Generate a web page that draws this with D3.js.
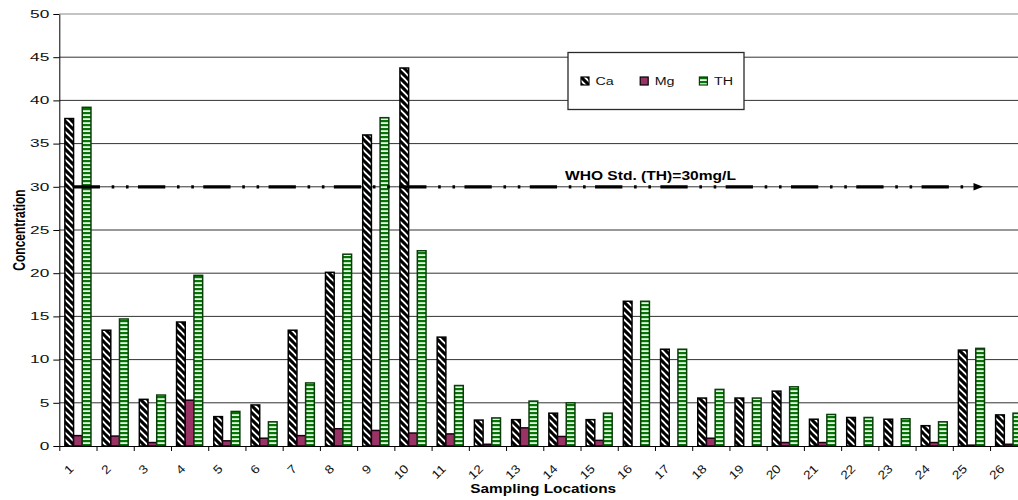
<!DOCTYPE html>
<html>
<head>
<meta charset="utf-8">
<script src="https://cdn.jsdelivr.net/npm/d3@7"></script>
<style>
  body { margin: 0; background: #fff; }
  svg { display: block; font-family: Arial, "Liberation Sans", sans-serif; }
  .stretch { transform-box: fill-box; }
</style>
</head>
<body>
<svg id="chart" width="1018" height="500"></svg>
<script>
// Sampling locations and measured concentrations (mg/L)
const locations = d3.range(1, 27).map(String);
const caValues = [37.9, 13.4, 5.4, 14.35, 3.4, 4.75, 13.4, 20.1, 36.0, 43.75, 12.6, 3.0, 3.05,
                  3.8, 3.05, 16.75, 11.2, 5.55, 5.55, 6.35, 3.1, 3.3, 3.1, 2.35, 11.1, 3.6];
const mgValues = [1.2, 1.15, 0.4, 5.3, 0.6, 0.9, 1.2, 2.0, 1.8, 1.5, 1.4, 0.2, 2.1,
                  1.1, 0.65, 0, 0, 0.9, 0, 0.4, 0.4, 0, 0, 0.4, 0.1, 0.2];
const thValues = [39.2, 14.7, 5.9, 19.75, 4.0, 2.8, 7.3, 22.2, 38.0, 22.6, 7.0, 3.25, 5.2,
                  5.0, 3.8, 16.75, 11.2, 6.55, 5.55, 6.85, 3.65, 3.3, 3.15, 2.8, 11.3, 3.8];
const seriesNames = ["Ca", "Mg", "TH"];
const yTicks = d3.range(0, 51, 5);
const whoStdTH = 30;
const whoLabel = "WHO Std. (TH)=30mg/L";
const xTitle = "Sampling Locations";
const yTitle = "Concentration";

const seriesValues = { Ca: caValues, Mg: mgValues, TH: thValues };

// Layout
const plotLeft = 59.3, plotTop = 14, plotBottom = 446;
const step = 37.23;
const plotRight = plotLeft + step * locations.length;

const svg = d3.select("#chart");

const x = d3.scaleBand().domain(locations).range([plotLeft, plotRight]);
const xs = d3.scaleBand().domain(seriesNames).range([0, x.bandwidth()]).paddingOuter(0.64);
const y = d3.scaleLinear().domain([0, 50]).range([plotBottom, plotTop]);

// Fill patterns
const defs = svg.append("defs");
const hatch = defs.append("pattern")
  .attr("id", "hatchCa").attr("patternUnits", "userSpaceOnUse")
  .attr("width", 7).attr("height", 7);
hatch.append("rect").attr("width", 7).attr("height", 7).attr("fill", "#fff");
hatch.append("path")
  .attr("d", "M-1,-1 L8,8 M-1,6 L1,8 M6,-1 L8,1")
  .attr("stroke", "#000").attr("stroke-width", 3.1);

const stripe = defs.append("pattern")
  .attr("id", "stripeTH").attr("patternUnits", "userSpaceOnUse")
  .attr("width", 4).attr("height", 4);
stripe.append("rect").attr("width", 4).attr("height", 4).attr("fill", "#e4fbe4");
stripe.append("rect").attr("width", 4).attr("height", 2.2).attr("fill", "#067406");

const seriesStyle = {
  Ca: { fill: "url(#hatchCa)", stroke: "#000" },
  Mg: { fill: "#993366", stroke: "#1a0010" },
  TH: { fill: "url(#stripeTH)", stroke: "#0b3d0b" }
};

// Horizontal gridlines
svg.append("g")
  .selectAll("line")
  .data(yTicks.filter(d => d > 0))
  .join("line")
  .attr("x1", plotLeft).attr("x2", plotRight)
  .attr("y1", d => y(d)).attr("y2", d => y(d))
  .attr("stroke", d => d === 50 ? "#888" : "#333")
  .attr("stroke-width", 1);

// Bars
const barData = locations.flatMap((loc, i) =>
  seriesNames.map(s => ({ loc, s, v: seriesValues[s][i] })));

svg.append("g")
  .selectAll("rect")
  .data(barData.filter(d => d.v > 0))
  .join("rect")
  .attr("x", d => x(d.loc) + xs(d.s))
  .attr("width", xs.bandwidth())
  .attr("y", d => y(d.v))
  .attr("height", d => y(0) - y(d.v))
  .attr("fill", d => seriesStyle[d.s].fill)
  .attr("stroke", d => seriesStyle[d.s].stroke)
  .attr("stroke-width", 1.5);

// WHO standard line with arrow
const whoY = y(whoStdTH);
const whoX0 = x("1") + step * 0.23;
const whoTip = x("25") + step * 0.81;
const arrowLen = 9.5;
svg.append("line")
  .attr("x1", whoX0).attr("x2", whoTip - arrowLen + 1)
  .attr("y1", whoY).attr("y2", whoY)
  .attr("stroke", "#000").attr("stroke-width", 3.3)
  .attr("stroke-dasharray", "27.3,11.7,2.6,11.7,2.6,9.4")
  .attr("stroke-dashoffset", 60.5);
svg.append("path")
  .attr("d", d3.line()([[whoTip - arrowLen, whoY - 3.8], [whoTip, whoY], [whoTip - arrowLen, whoY + 3.8]]) + "Z")
  .attr("fill", "#000");
svg.append("text")
  .attr("class", "stretch")
  .attr("x", x("16") + step * 0.88)
  .attr("y", whoY - 6.5)
  .attr("text-anchor", "middle")
  .attr("font-size", 12).attr("font-weight", "bold")
  .style("transform-origin", "50% 50%")
  .style("transform", "scaleX(1.3)")
  .text(whoLabel);

// Axes
const yAxis = svg.append("g")
  .attr("transform", `translate(${plotLeft},0)`)
  .call(d3.axisLeft(y).tickValues(yTicks).tickSize(6).tickPadding(4).tickSizeOuter(0));
yAxis.select(".domain").attr("stroke", "#000");
yAxis.selectAll(".tick line").attr("stroke", "#000");
yAxis.selectAll(".tick text")
  .attr("class", "stretch")
  .attr("font-size", 10.5).attr("fill", "#111")
  .attr("font-family", "Arial, 'Liberation Sans', sans-serif")
  .style("transform-origin", "100% 50%")
  .style("transform", "scaleX(1.65)");

const xEdge = d3.scaleLinear().domain([0, locations.length]).range([plotLeft, plotRight]);
const xAxis = svg.append("g")
  .attr("transform", `translate(0,${plotBottom})`)
  .call(d3.axisBottom(xEdge).tickValues(d3.range(0, locations.length + 1)).tickSize(5).tickSizeOuter(0).tickFormat(""));
xAxis.select(".domain").attr("stroke", "#000");
xAxis.selectAll(".tick line").attr("stroke", "#000");

svg.append("g")
  .selectAll("text")
  .data(locations)
  .join("text")
  .attr("transform", d => `translate(${x(d) + step / 2 - 3.5},469.5) rotate(-45) scale(1.15,1)`)
  .attr("text-anchor", "end")
  .attr("font-size", 12).attr("fill", "#111")
  .text(d => d);

// Axis titles
svg.append("text")
  .attr("class", "stretch")
  .attr("x", (plotLeft + plotRight) / 2)
  .attr("y", 493.5)
  .attr("text-anchor", "middle")
  .attr("font-size", 12).attr("font-weight", "bold")
  .style("transform-origin", "50% 50%")
  .style("transform", "scaleX(1.28)")
  .text(xTitle);

svg.append("text")
  .attr("transform", `translate(24.5,${(plotTop + plotBottom) / 2}) rotate(-90) scale(1,1.3)`)
  .attr("text-anchor", "middle")
  .attr("font-size", 12).attr("font-weight", "bold")
  .text(yTitle);

// Legend
const legend = svg.append("g");
legend.append("rect")
  .attr("x", 568).attr("y", 52.5).attr("width", 176).attr("height", 57)
  .attr("fill", "#fff").attr("stroke", "#2a2a2a").attr("stroke-width", 1.3);
const items = legend.selectAll("g.item")
  .data(seriesNames)
  .join("g")
  .attr("class", "item")
  .attr("transform", (d, i) => `translate(${581 + i * 59.2},77)`);
items.append("rect")
  .attr("width", 8).attr("height", 8)
  .attr("fill", d => seriesStyle[d].fill)
  .attr("stroke", d => d === "TH" ? "#0b3d0b" : "#000")
  .attr("stroke-width", 1.2);
items.append("text")
  .attr("class", "stretch")
  .attr("x", 14.5).attr("y", 8)
  .attr("font-size", 11).attr("fill", "#111")
  .style("transform-origin", "0% 50%")
  .style("transform", "scaleX(1.3)")
  .text(d => d);
</script>
</body>
</html>
